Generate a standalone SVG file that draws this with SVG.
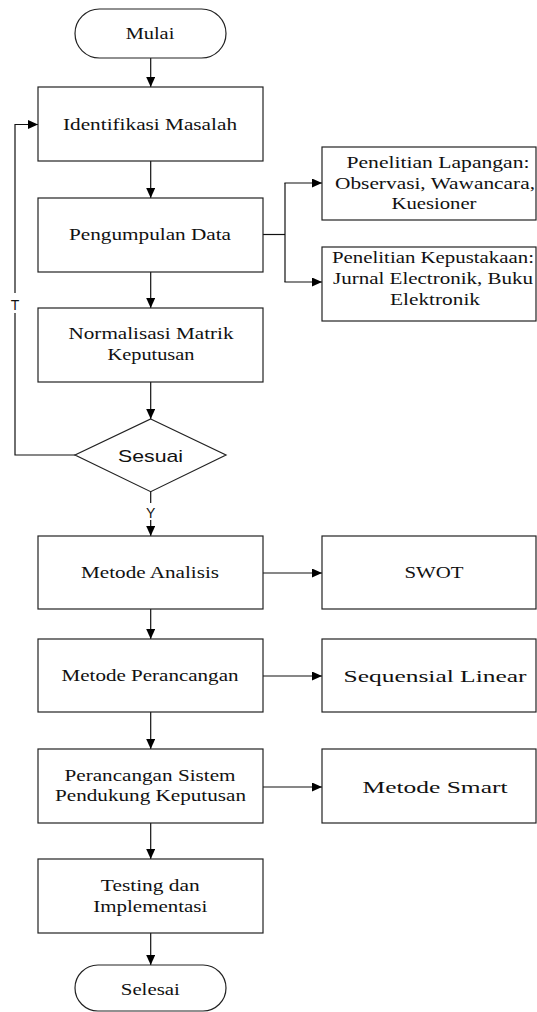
<svg xmlns="http://www.w3.org/2000/svg" width="537" height="1012" viewBox="0 0 537 1012">
<style>
.box{fill:#fff;stroke:#222;stroke-width:1.2}
.ln{fill:none;stroke:#111;stroke-width:1.2}
.t{font-family:'Liberation Serif','Times New Roman',serif;font-size:17px;fill:#111;text-anchor:middle}
.s{font-family:'Liberation Sans',Arial,sans-serif;fill:#111;text-anchor:middle}
</style>
<defs>
<marker id="ah" markerWidth="10" markerHeight="9" refX="10" refY="4.5" orient="auto" markerUnits="userSpaceOnUse">
<path d="M0,0 L10,4.5 L0,9 Z" fill="#000"/>
</marker>
</defs>
<rect width="537" height="1012" fill="#fff"/>
<g id="connectors">
<line class="ln" x1="150.7" y1="58" x2="150.7" y2="87" marker-end="url(#ah)"/>
<line class="ln" x1="150.7" y1="161" x2="150.7" y2="198" marker-end="url(#ah)"/>
<line class="ln" x1="150.7" y1="272" x2="150.7" y2="308" marker-end="url(#ah)"/>
<line class="ln" x1="150.7" y1="382" x2="150.7" y2="419" marker-end="url(#ah)"/>
<line class="ln" x1="150.7" y1="491.7" x2="150.7" y2="503"/>
<line class="ln" x1="150.7" y1="520" x2="150.7" y2="536" marker-end="url(#ah)"/>
<line class="ln" x1="150.7" y1="609" x2="150.7" y2="639" marker-end="url(#ah)"/>
<line class="ln" x1="150.7" y1="712" x2="150.7" y2="749" marker-end="url(#ah)"/>
<line class="ln" x1="150.7" y1="823" x2="150.7" y2="859" marker-end="url(#ah)"/>
<line class="ln" x1="150.7" y1="933" x2="150.7" y2="965" marker-end="url(#ah)"/>
<polyline class="ln" points="75,455 15,455 15,313"/>
<polyline class="ln" points="15,293 15,124.5 38,124.5" marker-end="url(#ah)"/>
<line class="ln" x1="263" y1="234.5" x2="285" y2="234.5"/>
<polyline class="ln" points="285,183 285,282"/>
<line class="ln" x1="284.4" y1="183" x2="322" y2="183" marker-end="url(#ah)"/>
<line class="ln" x1="284.4" y1="282" x2="322" y2="282" marker-end="url(#ah)"/>
<line class="ln" x1="263" y1="573" x2="322" y2="573" marker-end="url(#ah)"/>
<line class="ln" x1="263" y1="676" x2="322" y2="676" marker-end="url(#ah)"/>
<line class="ln" x1="263" y1="787" x2="322" y2="787" marker-end="url(#ah)"/>
<text class="s" x="15" y="309.5" font-size="14">T</text>
<text class="s" x="150.7" y="517.5" font-size="14">Y</text>
</g>
<g id="mulai">
<rect class="box" x="75" y="9" width="151" height="49" rx="24.5"/>
<text class="t" x="150" y="39" textLength="48.7" lengthAdjust="spacingAndGlyphs">Mulai</text>
</g>
<g id="identifikasi">
<rect class="box" x="38" y="87" width="225" height="74"/>
<text class="t" x="150" y="130" textLength="174" lengthAdjust="spacingAndGlyphs">Identifikasi Masalah</text>
</g>
<g id="pengumpulan">
<rect class="box" x="38" y="198" width="225" height="74"/>
<text class="t" x="150" y="240" textLength="162" lengthAdjust="spacingAndGlyphs">Pengumpulan Data</text>
</g>
<g id="lapangan">
<rect class="box" x="322" y="147" width="214" height="73"/>
<text class="t" x="438" y="168" font-size="16" textLength="183" lengthAdjust="spacingAndGlyphs">Penelitian Lapangan:</text>
<text class="t" x="435" y="189" font-size="16" textLength="200" lengthAdjust="spacingAndGlyphs">Observasi, Wawancara,</text>
<text class="t" x="434" y="209" font-size="16" textLength="85" lengthAdjust="spacingAndGlyphs">Kuesioner</text>
</g>
<g id="kepustakaan">
<rect class="box" x="322" y="247" width="214" height="74"/>
<text class="t" x="433" y="263" font-size="16" textLength="202" lengthAdjust="spacingAndGlyphs">Penelitian Kepustakaan:</text>
<text class="t" x="433" y="284" font-size="16" textLength="200" lengthAdjust="spacingAndGlyphs">Jurnal Electronik, Buku</text>
<text class="t" x="435" y="305" font-size="16" textLength="90" lengthAdjust="spacingAndGlyphs">Elektronik</text>
</g>
<g id="normalisasi">
<rect class="box" x="38" y="308" width="225" height="74"/>
<text class="t" x="151" y="339" textLength="165" lengthAdjust="spacingAndGlyphs">Normalisasi Matrik</text>
<text class="t" x="151" y="360" textLength="87" lengthAdjust="spacingAndGlyphs">Keputusan</text>
</g>
<g id="sesuai">
<polygon class="box" points="150.7,419 226,455 150.7,491.7 75,455"/>
<text class="s" x="150.5" y="461.5" font-size="17" textLength="65" lengthAdjust="spacingAndGlyphs">Sesuai</text>
</g>
<g id="analisis">
<rect class="box" x="38" y="536" width="225" height="73"/>
<text class="t" x="150" y="578" textLength="138" lengthAdjust="spacingAndGlyphs">Metode Analisis</text>
</g>
<g id="swot">
<rect class="box" x="322" y="536" width="214" height="73"/>
<text class="t" x="434" y="578" font-size="15" textLength="59" lengthAdjust="spacingAndGlyphs">SWOT</text>
</g>
<g id="perancangan">
<rect class="box" x="38" y="639" width="225" height="73"/>
<text class="t" x="150" y="681" textLength="177" lengthAdjust="spacingAndGlyphs">Metode Perancangan</text>
</g>
<g id="sequensial">
<rect class="box" x="322" y="639" width="214" height="73"/>
<text class="t" x="435" y="682" font-size="22" textLength="183" lengthAdjust="spacingAndGlyphs">Sequensial Linear</text>
</g>
<g id="spk">
<rect class="box" x="38" y="749" width="225" height="74"/>
<text class="t" x="150" y="781" textLength="171" lengthAdjust="spacingAndGlyphs">Perancangan Sistem</text>
<text class="t" x="150.5" y="801" textLength="191" lengthAdjust="spacingAndGlyphs">Pendukung Keputusan</text>
</g>
<g id="smart">
<rect class="box" x="322" y="749" width="214" height="74"/>
<text class="t" x="435" y="793" font-size="22" textLength="145" lengthAdjust="spacingAndGlyphs">Metode Smart</text>
</g>
<g id="testing">
<rect class="box" x="38" y="859" width="225" height="74"/>
<text class="t" x="150.3" y="891" textLength="99" lengthAdjust="spacingAndGlyphs">Testing dan</text>
<text class="t" x="150.3" y="912" textLength="114" lengthAdjust="spacingAndGlyphs">Implementasi</text>
</g>
<g id="selesai">
<rect class="box" x="75" y="965" width="151" height="46" rx="23"/>
<text class="t" x="150.3" y="995" textLength="59" lengthAdjust="spacingAndGlyphs">Selesai</text>
</g>
</svg>
